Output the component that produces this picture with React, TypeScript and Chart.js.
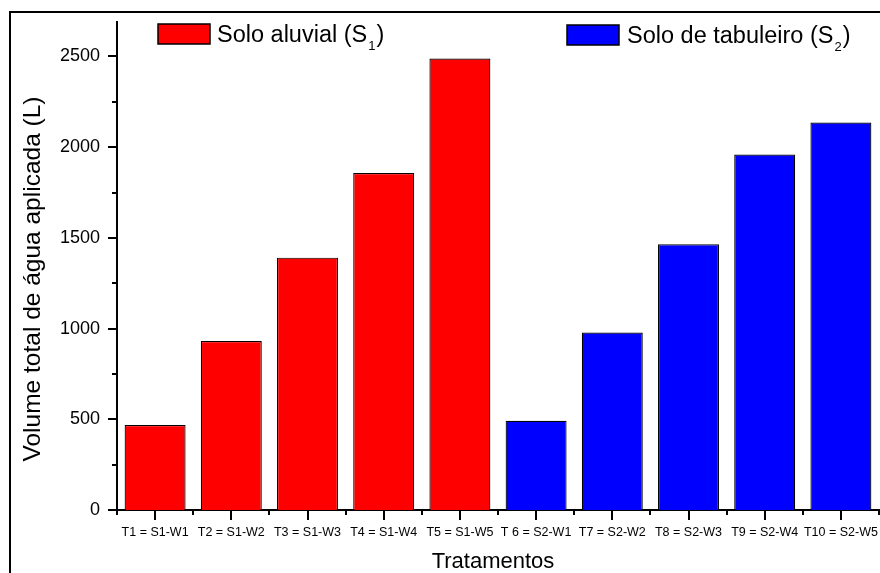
import React, { useEffect, useRef } from "react";
import { Chart, registerables } from "chart.js";

Chart.register(...registerables);

const categories = [
  "T1 = S1-W1",
  "T2 = S1-W2",
  "T3 = S1-W3",
  "T4 = S1-W4",
  "T5 = S1-W5",
  "T 6 = S2-W1",
  "T7 = S2-W2",
  "T8 = S2-W3",
  "T9 = S2-W4",
  "T10 = S2-W5",
];
const soloAluvial = [468, 931, 1391, 1857, 2489, null, null, null, null, null];
const soloTabuleiro = [null, null, null, null, null, 492, 978, 1465, 1960, 2136];
const legendMain = ["Solo aluvial (S", "Solo de tabuleiro (S"];
const legendSub = ["1", "2"];
const yMin = 0;
const yMax = 2690;
const yTickValues = [0, 500, 1000, 1500, 2000, 2500];
const yMinorStep = 250;
const yTitle = "Volume total de água aplicada (L)";
const xTitle = "Tratamentos";

const FONT = "'Liberation Sans', Arial, sans-serif";

const decorPlugin = {
  id: "decor",
  afterDraw(chart: any) {
    const ctx = chart.ctx;
    const xs = chart.scales.x;
    const ys = chart.scales.y;
    ctx.save();
    // outer frame
    ctx.strokeStyle = "#000";
    ctx.lineWidth = 2;
    ctx.beginPath();
    ctx.moveTo(10, 600);
    ctx.lineTo(10, 12);
    ctx.lineTo(900, 12);
    ctx.stroke();

    // y ticks (major + minor)
    for (let v = yMin; v <= yMax; v += yMinorStep) {
      const py = Math.round(ys.getPixelForValue(v));
      const len = yTickValues.includes(v) ? 9 : 5;
      ctx.beginPath();
      ctx.moveTo(ys.right - len, py);
      ctx.lineTo(ys.right, py);
      ctx.stroke();
    }
    // x ticks
    const n = categories.length;
    for (let i = 0; i < n; i++) {
      const px = Math.round(xs.getPixelForValue(i));
      ctx.beginPath();
      ctx.moveTo(px, xs.top);
      ctx.lineTo(px, xs.top + 10);
      ctx.stroke();
    }
    for (let i = 0; i <= n; i++) {
      const px = Math.round(xs.left + (i * (xs.right - xs.left)) / n);
      ctx.beginPath();
      ctx.moveTo(px, xs.top);
      ctx.lineTo(px, xs.top + 5);
      ctx.stroke();
    }

    // axis titles
    ctx.fillStyle = "#000";
    ctx.textAlign = "center";
    ctx.textBaseline = "middle";
    ctx.font = `22px ${FONT}`;
    ctx.fillText(xTitle, (xs.left + xs.right) / 2 - 5, 562);
    ctx.save();
    ctx.translate(33, 279);
    ctx.rotate(-Math.PI / 2);
    ctx.font = `24.5px ${FONT}`;
    ctx.fillText(yTitle, 0, 0);
    ctx.restore();

    // legend
    const boxes = [
      { x: 158, y: 24, text: 217, base: 42 },
      { x: 567, y: 25, text: 627, base: 43 },
    ];
    chart.data.datasets.forEach((ds: any, i: number) => {
      const b = boxes[i];
      ctx.fillStyle = ds.backgroundColor;
      ctx.fillRect(b.x, b.y, 52, 20);
      ctx.strokeStyle = "#000";
      ctx.lineWidth = 1.5;
      ctx.strokeRect(b.x, b.y, 52, 20);
      ctx.fillStyle = "#000";
      ctx.textBaseline = "alphabetic";
      ctx.textAlign = "left";
      ctx.font = `23.5px ${FONT}`;
      const main = legendMain[i];
      ctx.fillText(main, b.text, b.base);
      let x = b.text + ctx.measureText(main).width + 1;
      ctx.font = `13px ${FONT}`;
      ctx.fillText(legendSub[i], x, b.base + 8);
      x += ctx.measureText(legendSub[i]).width + 1;
      ctx.font = `23.5px ${FONT}`;
      ctx.fillText(")", x, b.base);
    });
    ctx.restore();
  },
};

export default function App() {
  const ref = useRef<HTMLCanvasElement | null>(null);
  useEffect(() => {
    if (!ref.current) return;
    const chart = new Chart(ref.current, {
      type: "bar",
      data: {
        labels: categories,
        datasets: [
          {
            label: "Solo aluvial (S1)",
            data: soloAluvial,
            backgroundColor: "#FF0000",
            borderColor: "#000",
            borderWidth: 1.2,
            grouped: false,
            barPercentage: 0.8,
            categoryPercentage: 1,
          },
          {
            label: "Solo de tabuleiro (S2)",
            data: soloTabuleiro,
            backgroundColor: "#0000FF",
            borderColor: "#000",
            borderWidth: 1.2,
            grouped: false,
            barPercentage: 0.8,
            categoryPercentage: 1,
          },
        ] as any,
      },
      options: {
        animation: false,
        responsive: false,
        devicePixelRatio: 1,
        layout: { padding: { left: 0, top: 22, right: 1, bottom: 0 } },
        plugins: { legend: { display: false }, tooltip: { enabled: false } },
        scales: {
          x: {
            grid: { display: false, drawTicks: false },
            border: { display: true, color: "#000", width: 2 },
            ticks: {
              color: "#000",
              font: { family: FONT, size: 12.5 },
              padding: 15,
              maxRotation: 0,
              minRotation: 0,
              autoSkip: false,
            },
            title: { display: false, text: xTitle },
            afterFit: (s: any) => {
              s.height = 63;
              s.paddingLeft = 0;
              s.paddingRight = 0;
            },
          },
          y: {
            min: yMin,
            max: yMax,
            grid: { display: false, drawTicks: false },
            border: { display: true, color: "#000", width: 2 },
            ticks: {
              color: "#000",
              font: { family: FONT, size: 18 },
              padding: 17,
              callback: (v: any) => String(v),
            },
            afterBuildTicks: (s: any) => {
              s.ticks = yTickValues.map((v) => ({ value: v }));
            },
            title: { display: false, text: yTitle },
            afterFit: (s: any) => {
              s.width = 117;
              s.paddingTop = 0;
              s.paddingBottom = 0;
            },
          },
        },
      } as any,
      plugins: [decorPlugin],
    });
    return () => chart.destroy();
  }, []);
  return (
    <div style={{ position: "absolute", left: 0, top: 0, width: 880, height: 573, background: "#fff" }}>
      <canvas ref={ref} width={880} height={573} style={{ display: "block" }} />
    </div>
  );
}
